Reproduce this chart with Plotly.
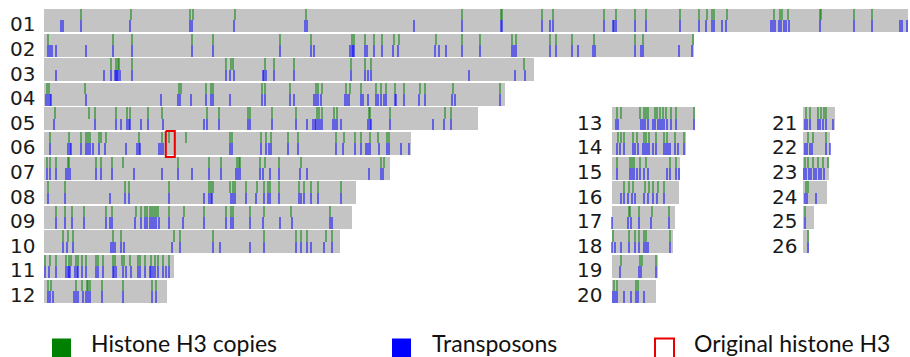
import plotly.graph_objects as go

# Chromosome names and lengths (Mb)
chromosomes = [f"{i:02d}" for i in range(1, 27)]
length_mb = [86.4, 65.0, 49.0, 46.1, 43.4, 36.7, 34.6, 31.2, 30.8, 29.6, 13.0, 12.3,
             8.3, 7.4, 6.8, 6.7, 6.3, 6.1, 4.6, 4.4,
             3.2, 2.7, 2.6, 2.4, 1.1, 0.6]

# Positions (Mb) of histone H3 copies on each chromosome
h3_copies_mb = {
    "01": [3.7, 8.7, 14.6, 14.9, 19.1, 26.2, 41.8, 45.7, 45.8, 49.8, 50.9, 56.0, 57.2, 59.1, 60.2,
           63.6, 65.5, 66.3, 66.8, 67.0, 68.3, 73.0, 73.6, 73.8, 74.4, 77.6, 77.7, 81.0, 82.8],
    "02": [0.4, 6.9, 8.8, 14.8, 16.9, 23.6, 26.7, 30.8, 31.0, 32.1, 33.0, 33.8, 35.0, 35.5, 39.2,
           41.8, 43.6, 46.8, 47.2, 50.6, 51.2, 52.8, 55.0, 59.1, 59.9, 64.9],
    "03": [6.7, 7.2, 7.4, 7.5, 8.8, 18.2, 18.7, 18.9, 22.1, 23.0, 25.0, 30.7, 32.1, 32.7, 48.0],
    "04": [0.3, 0.5, 4.1, 13.5, 13.7, 16.2, 16.7, 16.9, 21.8, 22.1, 24.6, 27.2, 27.4, 27.8, 30.2,
           30.6, 31.7, 33.2, 33.7, 34.2, 35.1, 36.0, 37.6, 38.1, 40.9, 45.6],
    "05": [1.1, 4.5, 5.1, 7.2, 8.3, 8.6, 10.4, 11.8, 16.3, 17.5, 20.4, 20.6, 22.8, 25.2, 27.3,
           27.5, 27.8, 29.0, 29.3, 32.5, 32.6, 34.6, 40.1, 40.7],
    "06": [0.6, 2.5, 3.7, 4.2, 4.4, 4.6, 5.5, 5.7, 6.2, 9.5, 11.8, 12.5, 14.2, 18.6, 18.8, 21.7,
           22.2, 22.7, 24.4, 25.4, 29.2, 30.0, 31.1, 31.7, 32.6, 33.4, 34.3, 34.5],
    "07": [0.3, 0.6, 1.2, 2.4, 2.5, 5.2, 5.7, 6.8, 7.9, 13.4, 16.5, 17.7, 19.3, 19.5, 19.6, 21.6,
           22.1, 23.5, 25.7, 33.7, 34.0],
    "08": [0.4, 2.1, 8.1, 8.5, 12.5, 16.5, 16.7, 16.9, 18.6, 18.9, 19.1, 20.2, 21.3, 22.0, 22.4,
           22.6, 23.5, 25.5, 26.0, 26.7, 27.4, 29.7],
    "09": [1.2, 2.1, 2.8, 4.0, 6.2, 6.8, 9.2, 9.7, 10.1, 10.3, 10.6, 10.8, 11.0, 11.2, 11.4, 12.5,
           14.0, 16.0, 18.2, 18.7, 18.9, 20.6, 22.0, 24.7, 28.6],
    "10": [1.9, 2.4, 2.9, 6.9, 7.7, 13.0, 13.6, 16.9, 22.0, 25.2, 25.7, 26.3, 28.2, 28.8],
    "11": [0.1, 0.6, 1.2, 2.2, 2.5, 2.7, 3.2, 3.4, 3.8, 4.2, 5.2, 5.4, 5.9, 6.9, 7.1, 7.8, 8.0,
           8.6, 9.4, 9.6, 10.1, 10.7, 11.1, 11.4, 11.9, 12.5],
    "12": [0.4, 0.7, 3.2, 3.8, 4.3, 4.4, 4.6, 5.8, 7.9, 10.8, 11.2],
    "13": [0.5, 0.9, 2.8, 3.2, 3.4, 3.6, 4.3, 4.5, 4.8, 5.1, 5.4, 5.9, 6.4, 8.2],
    "14": [0.6, 0.9, 1.2, 2.1, 2.5, 3.2, 3.4, 3.7, 4.4, 5.2, 5.5, 6.3, 7.2],
    "15": [0.5, 1.8, 2.0, 2.2, 2.8, 3.4, 5.8, 6.4],
    "16": [1.2, 1.7, 2.1, 3.3, 3.7, 4.1, 4.6, 5.2],
    "17": [1.7, 1.8, 2.7, 4.0, 5.7],
    "18": [0.1, 1.7, 2.3, 2.7, 3.2, 3.4, 5.8],
    "19": [0.9, 2.8, 3.0, 4.4],
    "20": [0.2, 0.5, 2.4, 2.6],
    "21": [0.3, 0.7, 1.5, 1.8, 2.1, 2.3],
    "22": [0.5, 1.0, 2.3],
    "23": [0.2, 0.5, 1.0, 1.5, 2.0, 2.5],
    "24": [0.3, 0.5],
    "25": [0.2],
    "26": [0.5],
}

# Positions (Mb) of transposons on each chromosome
transposons_mb = {
    "01": [1.7, 1.9, 3.7, 8.6, 14.6, 14.8, 19.0, 26.1, 26.3, 37.0, 41.8, 45.7, 45.8, 49.8, 50.6,
           50.9, 56.0, 56.9, 57.0, 57.2, 59.1, 60.2, 63.6, 65.5, 66.2, 66.8, 67.0, 67.8, 68.2, 72.7,
           72.9, 73.1, 73.5, 73.7, 74.0, 74.2, 74.5, 77.6, 81.0, 82.8, 85.6, 85.8, 86.3],
    "02": [0.4, 0.6, 0.8, 1.2, 4.2, 6.9, 8.8, 14.8, 16.9, 23.6, 26.7, 27.0, 30.6, 30.8, 30.9, 31.0,
           32.1, 32.3, 33.0, 33.8, 34.9, 35.4, 39.1, 39.5, 40.2, 41.8, 43.6, 46.8, 47.0, 47.2, 50.6,
           51.2, 52.8, 53.4, 54.9, 55.1, 59.1, 59.7, 59.9, 63.5, 64.8],
    "03": [1.2, 6.0, 6.7, 7.1, 7.2, 7.3, 7.4, 7.6, 8.8, 18.2, 18.6, 19.0, 21.9, 22.0, 22.2, 23.0,
           25.0, 30.7, 32.1, 32.4, 32.7, 42.5, 47.1, 48.1],
    "04": [0.2, 0.4, 0.6, 0.7, 4.2, 11.7, 13.4, 13.6, 14.7, 16.2, 16.7, 16.9, 18.6, 21.8, 22.1, 24.6,
           25.0, 27.0, 27.2, 27.4, 27.7, 30.1, 30.3, 30.5, 31.7, 31.9, 32.4, 33.2, 33.4, 33.7, 34.0,
           34.2, 35.1, 35.2, 36.0, 37.5, 38.1, 40.8, 41.1, 45.6],
    "05": [1.0, 5.1, 7.2, 7.7, 8.3, 8.5, 8.6, 9.7, 10.4, 11.9, 16.0, 16.3, 17.5, 20.4, 20.6, 22.8,
           25.2, 26.3, 26.9, 27.1, 27.2, 27.4, 27.6, 27.8, 28.9, 29.1, 29.3, 29.7, 32.4, 32.6, 32.7,
           34.6, 38.9, 40.0, 40.7],
    "06": [0.6, 2.4, 2.6, 2.7, 3.7, 4.2, 4.4, 4.6, 4.9, 5.5, 6.1, 8.2, 9.3, 9.5, 9.6, 11.5, 11.7,
           11.9, 18.6, 18.8, 21.7, 22.2, 22.5, 22.7, 24.4, 25.4, 29.2, 29.9, 31.1, 31.7, 32.2, 32.4,
           32.6, 33.5, 34.3, 34.5, 35.7, 36.5],
    "07": [0.3, 0.6, 1.2, 2.2, 2.4, 2.6, 5.2, 5.7, 6.8, 9.0, 11.8, 13.4, 14.8, 16.5, 17.7, 19.2,
           19.4, 19.6, 21.6, 21.9, 22.6, 23.5, 25.6, 26.3, 32.5, 33.7, 33.9],
    "08": [0.4, 2.1, 6.6, 8.1, 8.5, 12.5, 16.0, 16.5, 16.7, 16.8, 18.7, 18.9, 19.1, 20.2, 21.2,
           22.0, 22.4, 22.6, 23.5, 25.5, 25.7, 26.0, 26.7, 27.4, 29.7],
    "09": [1.2, 2.1, 2.8, 4.0, 6.2, 6.6, 6.8, 9.1, 9.7, 10.1, 10.3, 10.6, 10.8, 11.0, 11.2, 11.5,
           12.5, 13.9, 16.0, 18.2, 18.7, 18.9, 20.6, 21.9, 23.6, 24.8, 28.6, 28.8],
    "10": [1.9, 2.3, 2.9, 6.7, 6.9, 7.1, 7.7, 8.0, 12.8, 13.6, 16.9, 17.6, 20.6, 22.0, 25.2, 25.7,
           26.3, 26.7, 28.0, 28.8],
    "11": [0.1, 0.5, 1.2, 2.2, 2.4, 2.5, 2.6, 3.1, 3.3, 3.4, 3.8, 4.2, 5.2, 5.4, 5.9, 6.9, 7.0,
           7.2, 7.9, 8.2, 8.7, 9.4, 9.6, 10.1, 10.6, 10.7, 10.9, 11.1, 11.4, 11.9, 12.2, 12.5],
    "12": [0.4, 0.6, 0.9, 3.0, 3.2, 3.4, 3.9, 4.2, 4.4, 4.6, 5.8, 7.9, 10.8, 11.2],
    "13": [0.4, 0.6, 2.9, 3.1, 3.3, 3.6, 4.1, 4.3, 4.6, 4.8, 5.0, 5.2, 5.5, 5.9, 6.4, 8.2],
    "14": [0.5, 0.8, 1.2, 2.1, 2.3, 2.6, 3.1, 3.3, 3.5, 3.7, 4.1, 4.4, 5.2, 5.4, 5.6, 5.8, 6.3,
           6.6, 7.2],
    "15": [0.5, 1.8, 2.0, 2.2, 2.5, 2.8, 3.2, 3.6, 5.5, 5.8, 6.4, 6.7],
    "16": [0.9, 1.2, 1.6, 2.0, 2.3, 3.2, 3.6, 4.1, 4.5, 5.2],
    "17": [0.05, 1.6, 1.9, 2.7, 3.9, 5.7],
    "18": [0.05, 0.3, 0.9, 1.7, 2.3, 2.7, 3.2, 3.4, 3.6, 5.8],
    "19": [0.8, 2.7, 2.9, 4.4],
    "20": [0.1, 0.3, 0.5, 1.2, 1.9, 2.4, 2.6, 3.2],
    "21": [0.2, 0.4, 0.7, 1.5, 1.7, 2.0, 2.3, 3.0],
    "22": [0.2, 0.4, 0.7, 0.9, 2.3, 2.7],
    "23": [0.1, 0.3, 0.6, 0.8, 1.1, 1.3, 1.6, 1.8, 2.1],
    "24": [0.2, 0.4, 1.3],
    "25": [0.2],
    "26": [0.5],
}

# The original histone H3 gene
original_h3_chrom = "06"
original_h3_mb = 12.6

# ---- panel layout: three columns of chromosomes sharing one Mb scale ----
COL_OFFSET = [0.0, 56.74, 75.9]      # x offset (Mb units) of each column
COL_LABEL_GAP = [0.75, 0.75, 0.45]
BAR_H = 0.935                        # bar thickness in row units


def place(idx):
    """Return (column, row) for the chromosome at list index idx."""
    if idx < 12:
        return 0, idx
    if idx < 20:
        return 1, idx - 12 + 4
    return 2, idx - 20 + 4


GRAY = "rgb(196,196,196)"
GREEN = "rgba(0,128,0,0.5)"
BLUE = "rgba(0,0,255,0.5)"
TICK_W = 0.2

bar_y, bar_x, bar_base = [], [], []
g_x, g_base, b_x, b_base = [], [], [], []
annotations = []
for i, name in enumerate(chromosomes):
    col, row = place(i)
    off = COL_OFFSET[col]
    bar_y.append(row)
    bar_x.append(length_mb[i])
    bar_base.append(off)
    for p in h3_copies_mb[name]:
        g_x.append(off + p)
        g_base.append(row - BAR_H / 2)
    for p in transposons_mb[name]:
        b_x.append(off + p)
        b_base.append(row)
    annotations.append(dict(
        x=off - COL_LABEL_GAP[col], y=row, xref="x", yref="y", text=name,
        showarrow=False, xanchor="right", yanchor="middle", yshift=-4,
        font=dict(family="DejaVu Sans", size=20, color="#1a1a1a")))

fig = go.Figure()
fig.add_trace(go.Bar(
    orientation="h", y=bar_y, x=bar_x, base=bar_base, width=BAR_H,
    marker=dict(color=GRAY, line=dict(width=0)), hoverinfo="skip", showlegend=False))
fig.add_trace(go.Bar(
    x=g_x, y=[BAR_H / 2] * len(g_x), base=g_base, width=TICK_W,
    marker=dict(color=GREEN, line=dict(width=0)), name="Histone H3 copies", showlegend=False))
fig.add_trace(go.Bar(
    x=b_x, y=[BAR_H / 2] * len(b_x), base=b_base, width=TICK_W,
    marker=dict(color=BLUE, line=dict(width=0)), name="Transposons", showlegend=False))

# Box around the original histone H3 gene
o_col, o_row = place(chromosomes.index(original_h3_chrom))
ox = COL_OFFSET[o_col] + original_h3_mb
half_w, top, bot = 0.45, o_row - 0.51, o_row + 0.55
fig.add_trace(go.Scatter(
    x=[ox - half_w, ox + half_w, ox + half_w, ox - half_w, ox - half_w],
    y=[top, top, bot, bot, top], mode="lines",
    line=dict(color="rgb(235,0,0)", width=2), name="Original histone H3",
    showlegend=False, hoverinfo="skip"))

# ---- legend drawn below the panels ----
W, H = 910, 357
legend_items = [
    ("Histone H3 copies", 52, 89, dict(fillcolor="rgb(0,128,0)", line=dict(width=0))),
    ("Transposons", 392, 430, dict(fillcolor="rgb(0,0,255)", line=dict(width=0))),
    ("Original histone H3", 655, 692, dict(fillcolor="white", line=dict(color="rgb(235,0,0)", width=2))),
]
shapes = []
for label, sx, tx, style in legend_items:
    shapes.append(dict(type="rect", xref="paper", yref="paper",
                       x0=sx / W, x1=(sx + 19) / W, y0=1 - 358 / H, y1=1 - 338.5 / H, **style))
    annotations.append(dict(
        x=tx / W, y=1 - 343 / H, xref="paper", yref="paper", text=label, showarrow=False,
        xanchor="left", yanchor="middle",
        font=dict(family="Lato", size=23, color="#111")))

fig.update_layout(
    width=W, height=H, margin=dict(l=0, r=0, t=0, b=0),
    paper_bgcolor="white", plot_bgcolor="white",
    barmode="overlay", bargap=0,
    xaxis=dict(range=[-4.43, 86.57], visible=False, fixedrange=True),
    yaxis=dict(range=[13.68, -0.833], visible=False, fixedrange=True),
    annotations=annotations, shapes=shapes,
)

fig.write_html("out.html")
